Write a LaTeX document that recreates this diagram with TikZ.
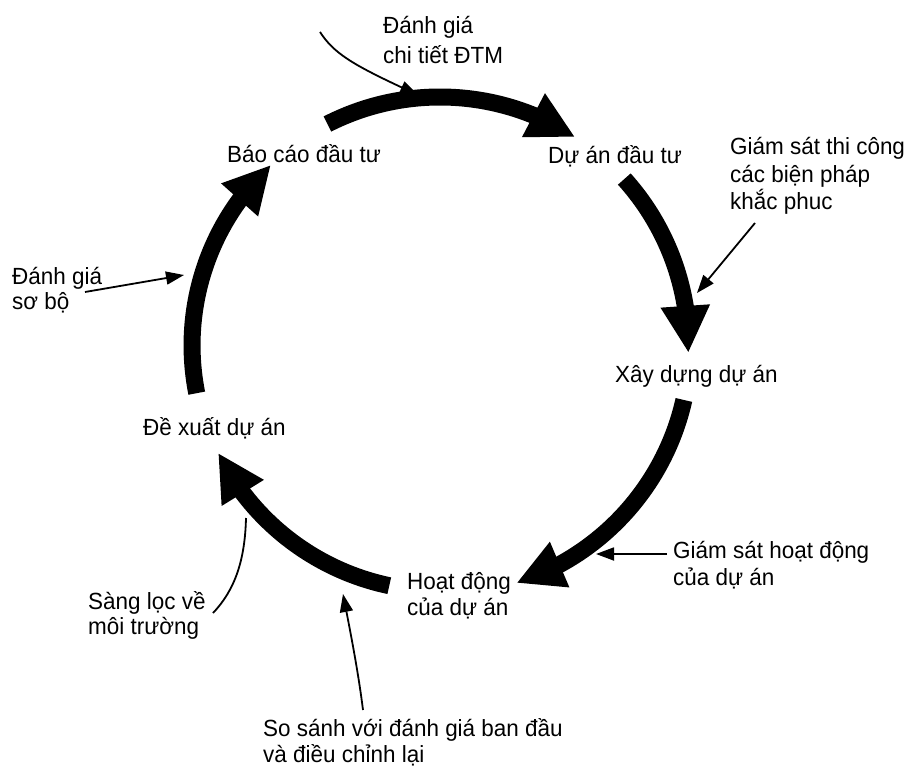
\documentclass[tikz,border=0pt]{standalone}
\usepackage{fontspec}
\setmainfont{Liberation Sans}[FakeStretch=0.96]
\usetikzlibrary{arrows.meta,bending}
\begin{document}
\begin{tikzpicture}[x=1pt,y=-1pt,
  lbl/.style={anchor=base west,inner sep=0pt,font=\fontsize{23.4}{27}\selectfont},
  big/.style={line width=17pt,-{Triangle[length=47pt,width=46pt]}},
  thin/.style={line width=1.8pt,-{Triangle[length=18pt,width=13pt]}},
  plain/.style={line width=1.8pt}]
\fill[white] (0,0) rectangle (910,767);
\useasboundingbox (0,0) rectangle (910,767);
\coordinate (C) at (440,345);
% cycle arrows
\draw[big] (C) ++(243:248) arc[start angle=243,end angle=303,radius=248];
\draw[big] (C) ++(318:248) arc[start angle=318,end angle=361.5,radius=250];
\draw[big] (C) ++(12.7:250) arc[start angle=12.7,end angle=72.2,radius=250];
\draw[big] (C) ++(101.9:246) arc[start angle=101.9,end angle=153.7,radius=248];
\draw[big] (C) ++(168.8:248) arc[start angle=168.8,end angle=227.2,radius=246];
% stage labels
\node[lbl] (bc) at (227,163) {Báo cáo đầu tư};
\node[lbl] (da) at (548,164) {Dự án đầu tư};
\node[lbl] (xd) at (615,382) {Xây dựng dự án};
\node[lbl] (hd1) at (407,589) {Hoạt động};
\node[lbl] (hd2) at (407,615) {của dự án};
\node[lbl] (dx) at (143,435) {Đề xuất dự án};
% side labels
\node[lbl] (dg1) at (383,34) {Đánh giá};
\node[lbl] (dg2) at (383,64) {chi tiết ĐTM};
\node[lbl] (gs1) at (730,155) {Giám sát thi công};
\node[lbl] (gs2) at (730,183) {các biện pháp};
\node[lbl] (gs3) at (730,210) {khắc phuc};
\node[lbl] (sb1) at (12,284) {Đánh giá};
\node[lbl] (sb2) at (12,309) {sơ bộ};
\node[lbl] (gh1) at (673,558) {Giám sát hoạt động};
\node[lbl] (gh2) at (673,585) {của dự án};
\node[lbl] (sl1) at (88,609) {Sàng lọc về};
\node[lbl] (sl2) at (88,634) {môi trường};
\node[lbl] (ss1) at (263,736) {So sánh với đánh giá ban đầu};
\node[lbl] (ss2) at (263,762) {và điều chỉnh lại};
% thin connectors
\coordinate (dgS) at (320,32);
\coordinate (dgE) at (418,95);
\draw[thin] (dgS) .. controls (335,55) and (355,66) .. (dgE);
\coordinate (gsS) at (755,223);
\coordinate (gsE) at (697,293);
\draw[thin] (gsS) -- (gsE);
\coordinate (sbS) at (85,292);
\coordinate (sbE) at (184,275);
\draw[thin] (sbS) -- (sbE);
\coordinate (ghS) at (667,554);
\coordinate (ghE) at (596,554);
\draw[thin] (ghS) -- (ghE);
\coordinate (slS) at (213,613);
\coordinate (slE) at (246,518);
\draw[plain] (slS) .. controls (235,590) and (245,560) .. (slE);
\coordinate (ssS) at (363,710);
\coordinate (ssE) at (343,594);
\draw[thin] (ssS) .. controls (358,670) and (350,630) .. (ssE);
\end{tikzpicture}
\end{document}
